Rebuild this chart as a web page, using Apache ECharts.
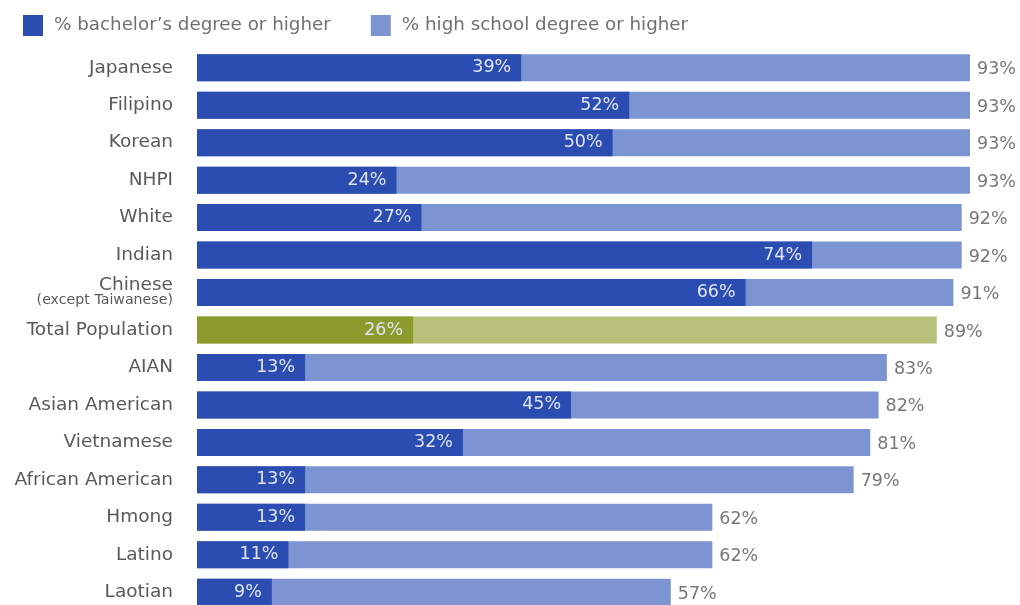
<!DOCTYPE html>
<html>
<head>
<meta charset="utf-8">
<script src="https://cdn.jsdelivr.net/npm/echarts@6/dist/echarts.min.js"></script>
<style>
  html, body { margin: 0; padding: 0; background: #ffffff; }
  #chart { width: 1020px; height: 605px; }
</style>
</head>
<body>
<div id="chart"></div>
<script>
// Educational attainment by group (percent of adults)
const categories = [
  'Japanese', 'Filipino', 'Korean', 'NHPI', 'White', 'Indian',
  'Chinese', 'Total Population', 'AIAN', 'Asian American', 'Vietnamese',
  'African American', 'Hmong', 'Latino', 'Laotian'
];
const bachelorPct = [39, 52, 50, 24, 27, 74, 66, 26, 13, 45, 32, 13, 13, 11, 9];
const highSchoolPct = [93, 93, 93, 93, 92, 92, 91, 89, 83, 82, 81, 79, 62, 62, 57];
const seriesNames = ['% bachelor\u2019s degree or higher', '% high school degree or higher'];

const FONT = 'DejaVu Sans';
const DARK_BLUE = '#2b4db1';
const LIGHT_BLUE = '#7c94d1';
const DARK_GREEN = '#8b9b2c';
const LIGHT_GREEN = '#b7c07a';
const HIGHLIGHT = 'Total Population';

const chart = echarts.init(document.getElementById('chart'));

const hsData = highSchoolPct.map((v, i) => categories[i] === HIGHLIGHT
  ? { value: v, itemStyle: { color: LIGHT_GREEN } } : v);
const baData = bachelorPct.map((v, i) => categories[i] === HIGHLIGHT
  ? { value: v, itemStyle: { color: DARK_GREEN } } : v);

chart.setOption({
  animation: false,
  textStyle: { fontFamily: FONT },
  legend: {
    left: 18, top: 10,
    itemWidth: 20, itemHeight: 21, itemGap: 40,
    icon: 'rect',
    textStyle: { fontFamily: FONT, fontSize: 18.3, color: '#707070', padding: [0, 0, 0, 6] },
    data: seriesNames
  },
  grid: { left: 197, right: 50, top: 49, height: 562, outerBoundsMode: 'none' },
  xAxis: {
    type: 'value', min: 0, max: 93, show: false
  },
  yAxis: {
    type: 'category', inverse: true, data: categories,
    axisLine: { show: false }, axisTick: { show: false },
    axisLabel: {
      margin: 24, fontSize: 18.5, color: '#595959', fontFamily: FONT,
      formatter: (v) => v === 'Chinese' ? '{a|Chinese}\n{s|(except Taiwanese)}' : v,
      rich: {
        a: { fontSize: 18.5, color: '#595959', fontFamily: FONT, lineHeight: 15, align: 'right' },
        s: { fontSize: 14.2, color: '#595959', fontFamily: FONT, lineHeight: 14, align: 'right' }
      }
    }
  },
  series: [
    {
      name: seriesNames[1], type: 'bar', data: hsData, barWidth: 27,
      barGap: '-100%', itemStyle: { color: LIGHT_BLUE }, z: 1,
      label: {
        show: true, position: 'right', distance: 7, offset: [0, 2], formatter: '{c}%',
        fontSize: 17.5, color: '#777777', fontFamily: FONT
      }
    },
    {
      name: seriesNames[0], type: 'bar', data: baData, barWidth: 27,
      barGap: '-100%', itemStyle: { color: DARK_BLUE }, z: 2,
      label: {
        show: true, position: 'insideRight', distance: 10, formatter: '{c}%',
        fontSize: 17.5, color: '#dfe5f5', fontFamily: FONT
      }
    }
  ]
});
</script>
</body>
</html>
